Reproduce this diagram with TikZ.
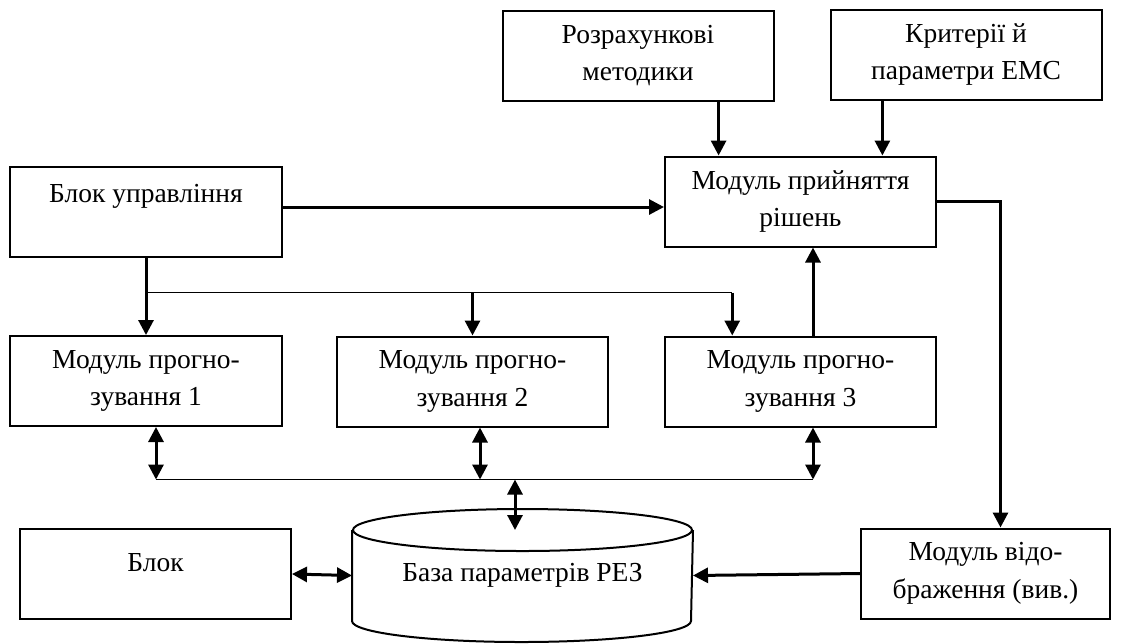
\documentclass[tikz,border=0pt]{standalone}
\usepackage{fontspec}
\setmainfont{Liberation Serif}
\usetikzlibrary{arrows.meta,calc}

\begin{document}
\begin{tikzpicture}[x=0.4pt, y=-0.4pt,
        blk/.style={draw, line width=0.8pt, minimum width=108.4pt, minimum height=36pt,
            align=center, inner sep=0pt, font=\fontsize{11}{15}\selectfont},
        arr/.style={line width=1.2pt, -{Triangle[length=6pt, width=6pt]}},
        dvo/.style={line width=1.2pt, {Triangle[length=6pt, width=6pt]}-{Triangle[length=6pt, width=6pt]}},
        shyna/.style={line width=0.6pt}]

        \useasboundingbox (0,0) rectangle (1121,643);

        % Верхні блоки
        \node[blk] (rozr) at (638,55.5) {Розрахункові\\методики};
        \node[blk] (krit) at (966,54.5) {Критерії й\\параметри ЕМС};
        \node[blk] (mpr) at (800.5,201.5) {Модуль прийняття\\рішень};
        \node[blk] (upr) at (146,212) {Блок управління\\\phantom{Б}};

        % Модулі прогнозування
        \node[blk] (mp1) at (146,381) {Модуль прогно-\\зування 1};
        \node[blk] (mp2) at (472.5,381.5) {Модуль прогно-\\зування 2};
        \node[blk] (mp3) at (800.5,381.5) {Модуль прогно-\\зування 3};

        % Нижні блоки
        \node[blk] (blok) at (155.5,574) {Блок\\[-6pt]\phantom{Б}};
        \node[blk, minimum width=99.6pt] (vidobr) at (985.5,573.5) {Модуль відо-\\браження (вив.)};
        \node[blk, draw=none, minimum width=135.6pt, minimum height=35.6pt] (baza) at (522.5,575.5) {База параметрів РЕЗ};

        % Циліндр бази
        \draw[line width=0.8pt] (baza.north) ellipse [x radius=67.8pt, y radius=8.4pt];
        \draw[line width=0.8pt] (baza.north west) -- (baza.south west)
            arc [start angle=180, end angle=360, x radius=67.8pt, y radius=8.4pt] -- (baza.north east);

        % Входи модуля прийняття рішень
        \coordinate (vh1) at ($(mpr.north west)!0.2!(mpr.north east)$);
        \coordinate (vh2) at ($(mpr.north west)!0.8!(mpr.north east)$);
        \coordinate (uprvyh) at ([yshift=2pt]upr.east);
        \draw[arr] (rozr.south -| vh1) -- (vh1);
        \draw[arr] (krit.south -| vh2) -- (vh2);
        \draw[arr] (uprvyh) -- (uprvyh -| mpr.west);
        \draw[arr] ([xshift=5pt]mp3.north) -- ([xshift=5pt]mpr.south);
        \draw[arr] (mpr.east) -| ([xshift=6pt]vidobr.north);

        % Розгалуження від блоку управління
        \coordinate (rozg) at ($(upr.south)!0.45!(mp1.north)$);
        \coordinate (vh3) at ($(mp3.north west)!0.25!(mp3.north east)$);
        \draw[arr] (upr.south) -- (mp1.north);
        \draw[shyna] (rozg) -- (rozg -| vh3);
        \draw[arr] (rozg -| mp2.north) -- (mp2.north);
        \draw[arr] (rozg -| vh3) -- (vh3);

        % Шина до бази
        \coordinate (sh) at ($(mp1.south)!0.51!(baza.north)$);
        \foreach \m/\s in {mp1/4pt, mp2/3pt, mp3/5pt} {
            \coordinate (d\m) at ([xshift=\s]\m.south);
            \draw[dvo] (d\m) -- (d\m |- sh);
        }
        \draw[shyna] (dmp1 |- sh) -- (dmp3 |- sh);
        \coordinate (dbaza) at ([xshift=-3pt]baza.north);
        \draw[dvo] (dbaza |- sh) -- (dbaza);

        % Нижній ряд
        \draw[dvo] (blok.east) -- (baza.west);
        \draw[arr] (vidobr.west) -- (baza.east);
    \end{tikzpicture}
\end{document}
